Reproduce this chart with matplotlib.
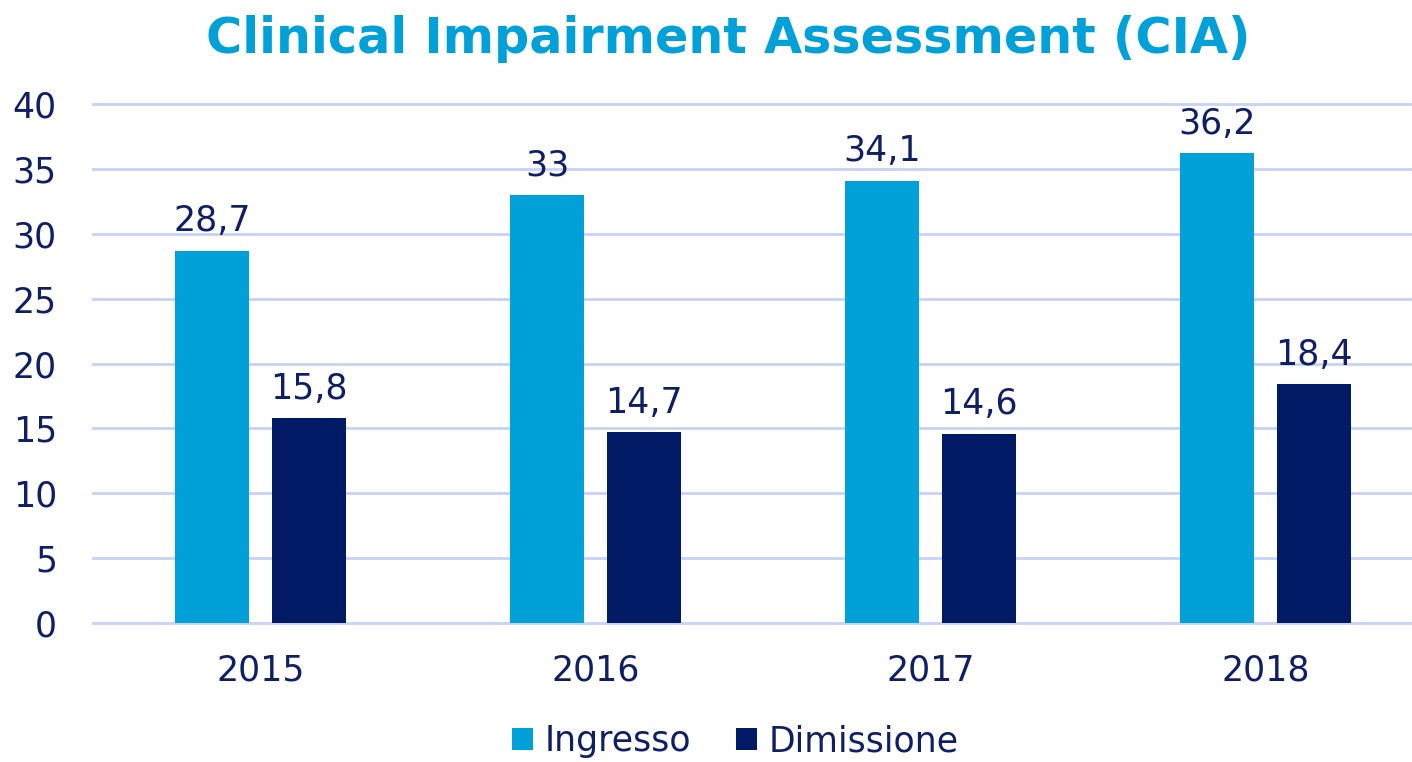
import matplotlib
matplotlib.use("Agg")
import matplotlib.pyplot as plt
import numpy as np

years = ["2015", "2016", "2017", "2018"]
ingresso = [28.7, 33, 34.1, 36.2]
dimissione = [15.8, 14.7, 14.6, 18.4]
series_names = ["Ingresso", "Dimissione"]
yticks = [0, 5, 10, 15, 20, 25, 30, 35, 40]

LIGHT = "#00A0D8"
NAVY = "#001A66"
TEXT = "#0F1F66"
GRID = "#C7D2F5"
FS = 25

plt.rcParams["font.family"] = ["DejaVu Sans"]

fig = plt.figure(figsize=(14.12, 7.62), dpi=100)
ax = fig.add_axes([93/1412, 1-623/762, 1340/1412, 519/762])

x = np.arange(len(years))
w = 0.221
off = (w + 0.066) / 2
b1 = ax.bar(x - off, ingresso, w, color=LIGHT, label=series_names[0], zorder=3)
b2 = ax.bar(x + off, dimissione, w, color=NAVY, label=series_names[1], zorder=3)

def fmt(v):
    s = f"{v:g}"
    return s.replace(".", ",")

for bars, vals in ((b1, ingresso), (b2, dimissione)):
    for r, v in zip(bars, vals):
        ax.annotate(fmt(v), (r.get_x() + r.get_width()/2, v), xytext=(0, 14),
                    textcoords="offset points", ha="center", va="baseline",
                    fontsize=FS, color=TEXT)

ax.set_xlim(-0.5, len(years) - 0.5)
ax.set_ylim(0, 40)
ax.set_yticks(yticks)
ax.set_yticklabels([str(t) for t in yticks])
ax.set_xticks(x)
ax.set_xticklabels(years)
ax.tick_params(axis="both", length=0, labelsize=FS, labelcolor=TEXT)
ax.tick_params(axis="y", pad=26)
ax.tick_params(axis="x", pad=22)
ax.grid(axis="y", color=GRID, linewidth=2, zorder=0)
for gl in ax.get_ygridlines():
    gl.set_clip_on(False)
ax.set_axisbelow(True)
for s in ax.spines.values():
    s.set_visible(False)

fig.text(0.516, 1-53/762, "Clinical Impairment Assessment (CIA)", ha="center", va="baseline",
         fontsize=35.5, fontweight="bold", color=LIGHT)

leg = fig.legend(handles=[b1, b2], labels=series_names, loc="center",
                 bbox_to_anchor=(0.521, 1-741/762), ncol=2, frameon=False,
                 fontsize=FS, handlelength=0.58, handleheight=0.58,
                 handletextpad=0.35, columnspacing=1.3, labelcolor=TEXT)

fig.savefig("out.png", dpi=100)
